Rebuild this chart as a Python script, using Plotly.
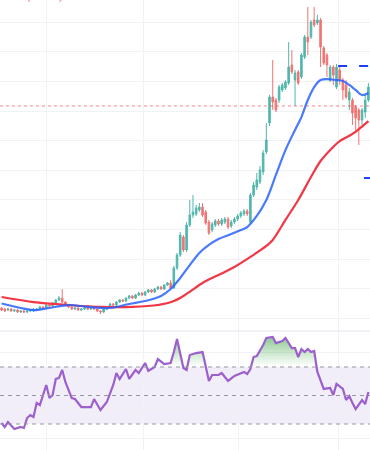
import plotly.graph_objects as go

idx = list(range(116))
opens = [18.69,18.62,18.55,18.62,18.49,18.55,18.42,18.49,18.42,18.49,18.49,18.55,18.62,18.76,18.69,18.89,18.82,19.03,19.23,19.36,
         19.09,18.89,18.76,18.62,18.69,18.55,18.62,18.69,18.62,18.76,18.62,18.49,18.42,18.62,18.76,18.96,18.89,19.09,19.23,19.16,
         19.36,19.50,19.36,19.57,19.70,19.57,19.77,19.91,19.77,19.97,20.11,19.97,20.24,20.38,20.04,21.39,22.27,23.49,22.61,24.30,
         24.97,25.04,25.31,25.51,25.18,24.50,23.96,24.30,24.57,24.36,24.50,24.70,24.23,24.50,24.70,24.91,25.04,25.24,24.50,26.32,
         26.86,27.20,27.88,29.23,31.19,32.95,32.74,32.74,33.42,33.55,33.89,35.11,34.09,34.64,34.30,35.65,37.00,37.00,38.15,37.95,
         38.15,36.26,35.78,34.09,34.97,33.62,34.77,34.09,33.76,32.74,32.74,32.27,32.07,31.39,31.93,32.74]
closes = [18.55,18.49,18.62,18.49,18.55,18.42,18.49,18.42,18.49,18.55,18.62,18.62,18.76,18.69,18.89,18.82,19.03,19.23,19.36,19.09,
          18.89,18.76,18.62,18.69,18.55,18.62,18.69,18.62,18.76,18.62,18.49,18.42,18.62,18.76,18.96,18.89,19.09,19.23,19.16,19.36,
          19.50,19.36,19.57,19.70,19.57,19.77,19.91,19.77,19.97,20.11,19.97,20.24,20.38,20.04,21.39,22.27,23.62,22.61,24.30,24.97,
          25.18,25.45,25.51,24.97,24.43,23.76,24.36,24.57,24.36,24.64,24.70,24.16,24.50,24.70,24.91,25.11,25.24,25.04,26.32,27.00,
          27.34,28.01,29.16,30.04,32.95,32.61,32.07,33.62,33.76,33.96,34.97,34.64,34.57,33.89,35.78,37.00,36.66,38.01,37.81,38.15,
          36.32,35.24,35.11,34.97,34.43,34.97,34.09,33.42,32.95,33.28,31.86,31.53,31.39,32.07,32.74,33.62]
highs = [18.76,18.69,18.69,18.69,18.62,18.62,18.55,18.55,18.55,18.62,18.69,18.69,18.82,18.82,18.96,18.96,19.09,19.30,19.50,19.97,
         19.16,18.96,18.82,18.76,18.76,18.69,18.76,18.76,18.82,18.82,18.69,18.55,18.69,18.82,19.03,19.03,19.16,19.30,19.30,19.43,
         19.57,19.57,19.63,19.77,19.77,19.84,19.97,19.97,20.04,20.18,20.18,20.31,20.45,20.58,21.53,22.41,23.82,23.62,24.50,25.99,
         26.32,25.65,25.78,25.78,25.31,24.64,24.50,24.70,24.70,24.77,24.84,24.84,24.64,24.84,25.04,25.24,25.38,25.38,26.46,27.20,
         27.81,28.28,29.36,31.19,33.08,35.45,32.88,33.76,33.89,34.09,36.66,36.12,34.77,34.77,35.92,37.14,39.03,38.15,39.03,38.49,
         38.28,36.39,35.92,35.11,35.11,35.18,35.04,34.23,34.09,33.55,32.88,32.41,32.20,32.20,33.08,33.89]
lows = [18.49,18.42,18.49,18.42,18.42,18.35,18.35,18.35,18.35,18.42,18.42,18.49,18.55,18.62,18.62,18.76,18.76,18.96,19.16,19.03,
        18.82,18.69,18.55,18.55,18.49,18.49,18.55,18.55,18.55,18.55,18.42,18.28,18.35,18.55,18.69,18.82,18.82,19.03,19.09,19.09,
        19.30,19.30,19.30,19.50,19.50,19.50,19.70,19.70,19.70,19.91,19.91,19.91,20.18,19.97,19.97,21.26,22.14,22.47,22.47,24.16,
        24.77,24.91,25.18,24.84,24.30,23.62,23.82,24.16,24.23,24.23,24.36,24.03,24.09,24.36,24.57,24.77,24.91,24.91,24.36,26.19,
        26.66,27.07,27.68,29.09,30.99,32.07,31.93,32.54,33.28,33.42,33.76,34.50,32.34,33.76,34.16,35.51,35.78,36.86,37.68,37.81,
        34.97,35.11,34.30,33.96,33.76,33.49,33.76,32.74,32.81,32.07,31.05,30.72,29.70,31.05,31.53,32.61]

ma_fast_x = [0,6,10,15,21,27,34,40,45,50,53,56,59,62,65,68,72,75,77,80,83,86,89,92,94,96,98,100,102,105,107,109,111,113,115]
ma_fast = [18.99,18.69,18.55,18.69,18.89,18.76,18.69,18.96,19.16,19.50,19.97,20.72,21.59,22.41,22.95,23.35,23.69,23.96,24.16,24.91,
           25.99,27.68,29.36,30.72,31.59,32.74,33.62,34.09,34.16,34.09,34.03,33.76,33.42,33.08,33.22]
ma_slow_x = [0,10,21,31,41,49,54,58,63,68,73,78,83,85,89,93,97,100,103,106,110,115]
ma_slow = [19.43,19.09,18.89,18.76,18.76,18.89,19.16,19.64,20.38,20.92,21.46,22.14,22.88,23.28,24.64,25.99,27.54,28.62,29.36,29.97,
           30.45,31.32]

rsi_x = [0,1,2,4,6,7,8,9,10,11,12,14,15,16,17,18,19,20,22,23,25,28,29,31,33,35,36,37,39,40,42,43,45,46,48,49,51,53,54,55,57,58,
         59,61,63,65,66,68,69,71,73,76,77,78,79,80,82,83,85,86,88,89,91,92,93,94,95,96,97,98,99,101,103,104,105,107,108,109,110,
         111,113,114,115]
rsi = [30.7,27.9,31.4,26.5,27.9,27.2,34.2,36.3,34.9,44.7,43.3,57.4,48.2,50.4,61.6,62.3,67.9,59.5,48.2,47.5,41.9,41.9,47.5,39.8,
       45.4,57.4,65.8,61.6,68.6,61.6,67.9,65.8,72.8,67.2,70.0,75.6,72.1,72.8,80.5,89.6,69.3,67.9,78.4,79.8,80.5,60.2,64.4,64.4,
       65.8,60.2,63.7,66.5,65.1,68.6,77.0,77.7,85.4,90.4,91.1,86.8,88.2,90.4,83.3,83.3,77.0,82.6,80.5,82.6,80.5,81.2,66.5,54.6,
       55.3,50.4,58.1,54.6,46.8,49.6,44.7,40.5,46.8,44.0,52.5]

last_price = 32.34
level_hi = 35.04
level_lo = 27.47
change_text = "−1.67 (−4.91%)"

W, H = 370, 450
main_bottom_px = 331
y_top = 39.5
px_per_unit = 14.8
main_range = [y_top - main_bottom_px / px_per_unit, y_top]
rsi_px = 1.425
rsi_range = [50 - (450 - 395.5) / rsi_px, 50 + (395.5 - 332) / rsi_px]

grid = "#f1f2f4"
fig = go.Figure()

fig.add_trace(go.Candlestick(
    x=idx, open=opens, high=highs, low=lows, close=closes,
    increasing=dict(line=dict(color="#26a69a", width=1), fillcolor="#26a69a"),
    decreasing=dict(line=dict(color="#ef5350", width=1), fillcolor="#ef5350"),
    opacity=0.8, whiskerwidth=0, xaxis="x", yaxis="y", showlegend=False))

fig.add_trace(go.Scatter(x=ma_slow_x, y=ma_slow, mode="lines", line=dict(color="#f23645", width=2.2, shape="spline"),
                         xaxis="x", yaxis="y", showlegend=False))
fig.add_trace(go.Scatter(x=ma_fast_x, y=ma_fast, mode="lines", line=dict(color="#2962ff", width=2.2, shape="spline"),
                         opacity=0.85, xaxis="x", yaxis="y", showlegend=False))

fig.add_trace(go.Scatter(x=[105.5, 116.5], y=[level_hi, level_hi], mode="lines",
                         line=dict(color="#1e3cff", width=2, dash="9px,12px"), xaxis="x", yaxis="y", showlegend=False))
fig.add_trace(go.Scatter(x=[113.6, 116.5], y=[level_lo, level_lo], mode="lines",
                         line=dict(color="#1e3cff", width=2), xaxis="x", yaxis="y", showlegend=False))

# RSI pane
fig.add_trace(go.Scatter(x=rsi_x, y=[70] * len(rsi_x), mode="lines", line=dict(width=0),
                         xaxis="x2", yaxis="y2", showlegend=False, hoverinfo="skip"))
fig.add_trace(go.Scatter(x=rsi_x, y=[max(v, 70) for v in rsi], mode="lines", line=dict(width=0), fill="tonexty",
                         fillgradient=dict(type="vertical", start=70, stop=92,
                                           colorscale=[[0, "rgba(76,175,80,0.0)"], [1, "rgba(56,160,60,0.6)"]]),
                         xaxis="x2", yaxis="y2", showlegend=False, hoverinfo="skip"))
fig.add_trace(go.Scatter(x=rsi_x, y=rsi, mode="lines", line=dict(color="#9c5fce", width=2.2),
                         xaxis="x2", yaxis="y2", showlegend=False))

fig.add_shape(type="rect", xref="x2 domain", yref="y2", x0=0, x1=1, y0=30, y1=70,
              fillcolor="rgba(126,87,194,0.1)", line=dict(width=0), layer="below")
for lv in (70, 50, 30):
    fig.add_shape(type="line", xref="x2 domain", yref="y2", x0=0, x1=1, y0=lv, y1=lv,
                  line=dict(color="#9598a1", width=1, dash="4px,4px"))

fig.add_shape(type="line", xref="paper", yref="y", x0=0, x1=1, y0=last_price, y1=last_price,
              line=dict(color="#f23645", width=1, dash="dot"), opacity=0.6)
fig.add_shape(type="line", xref="paper", yref="paper", x0=0, x1=1,
              y0=1 - main_bottom_px / H, y1=1 - main_bottom_px / H, line=dict(color="#e0e3eb", width=1))

fig.add_annotation(xref="paper", yref="paper", x=0, y=1, xanchor="left", yanchor="bottom", yshift=-5,
                   text=change_text, showarrow=False, font=dict(color="#f23645", size=9, family="Roboto"))

fig.update_layout(
    width=W, height=H, margin=dict(l=0, r=0, t=0, b=0),
    paper_bgcolor="white", plot_bgcolor="white",
    xaxis=dict(domain=[0, 1], range=[-0.5, 115.5], tickvals=[14.1, 44.6, 74.4, 105.5], showticklabels=False,
               showgrid=True, gridcolor=grid, zeroline=False, rangeslider=dict(visible=False), anchor="y"),
    yaxis=dict(domain=[1 - main_bottom_px / H, 1], range=main_range, tickvals=list(range(18, 40, 2)),
               showticklabels=False, showgrid=True, gridcolor=grid, zeroline=False, anchor="x"),
    xaxis2=dict(domain=[0, 1], range=[-0.5, 115.5], tickvals=[14.1, 44.6, 74.4, 105.5], showticklabels=False,
                showgrid=True, gridcolor=grid, zeroline=False, anchor="y2", matches="x"),
    yaxis2=dict(domain=[0, 1 - (main_bottom_px + 1) / H], range=rsi_range, tickvals=[20, 40, 60, 80],
                showticklabels=False, showgrid=True, gridcolor=grid, zeroline=False, anchor="x2"),
)

fig.write_html("out.html", config={"displayModeBar": False},
               post_script="document.body.style.margin='0';document.body.style.overflow='hidden';")
